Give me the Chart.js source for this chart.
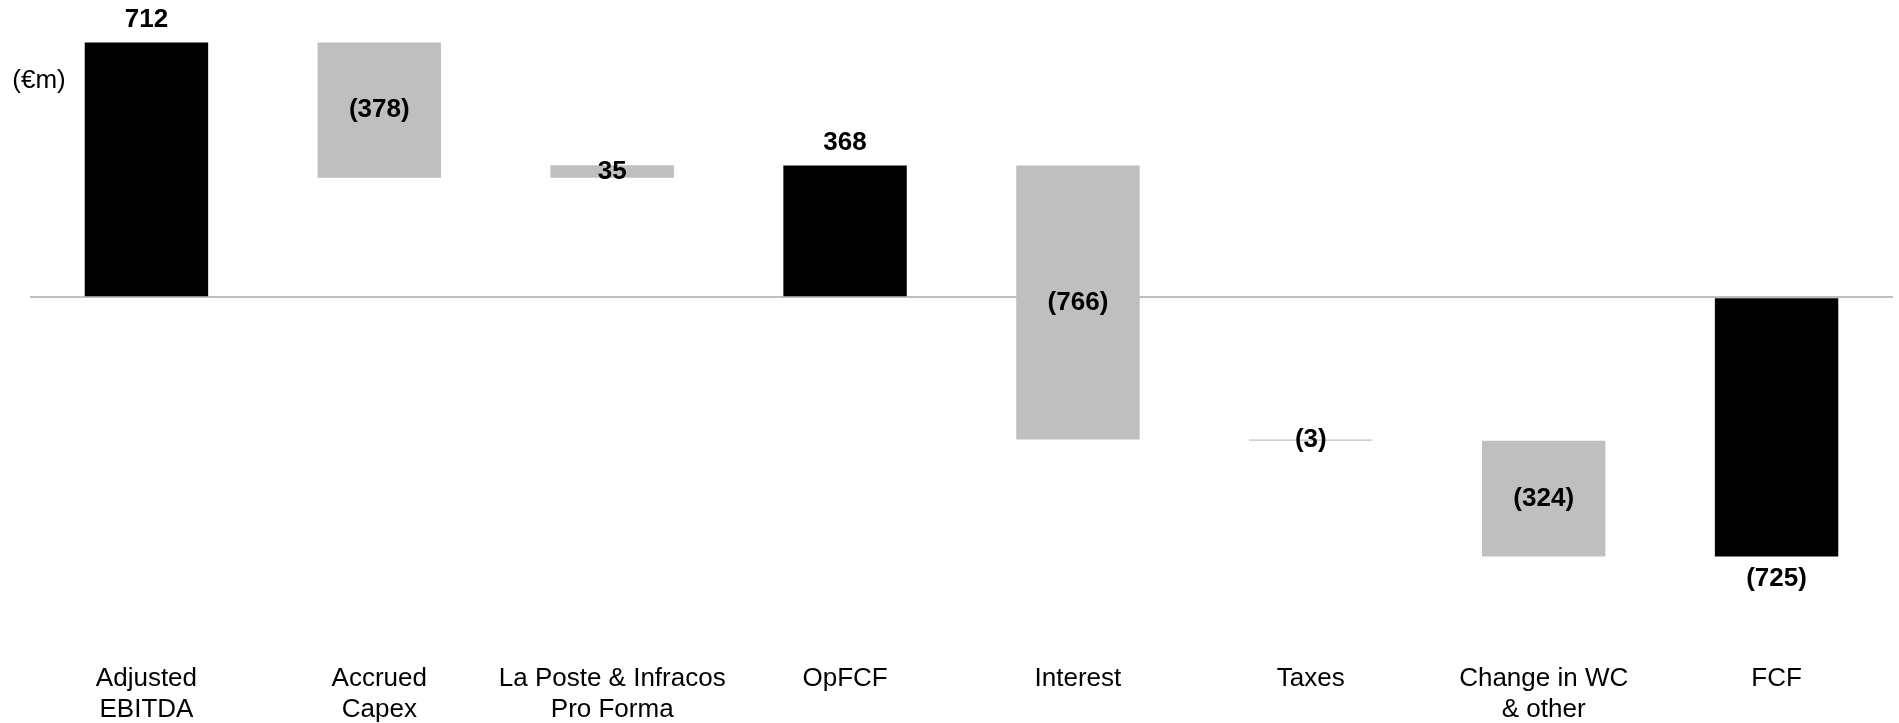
<!DOCTYPE html>
<html>
<head>
<meta charset="utf-8">
<title>FCF bridge</title>
<script src="https://cdn.jsdelivr.net/npm/chart.js@4"></script>
<style>
  html, body { margin: 0; padding: 0; background: #ffffff; }
  #wrap { position: relative; width: 1899px; height: 723px; }
</style>
</head>
<body>
<div id="wrap"><canvas id="bridgeChart"></canvas></div>
<script>
// categories (multi-line labels as arrays)
var categories = [
    ["Adjusted", "EBITDA"],
    ["Accrued", "Capex"],
    ["La Poste & Infracos", "Pro Forma"],
    "OpFCF",
    "Interest",
    "Taxes",
    ["Change in WC", "& other"],
    "FCF"
];

// values in EUR m
var values = [712, -378, 35, 368, -766, -3, -324, -725];

// which bars are totals (start from zero)
var isTotal = [true, false, false, true, false, false, false, true];

var unitLabel = "(€m)";

var FONT = "'Liberation Sans', Arial, sans-serif";

// build the floating bars from the values
var ranges = [];
var colors = [];
var running = 0;
for (var i = 0; i < values.length; i++) {
    if (isTotal[i]) {
        ranges.push([0, values[i]]);
        running = values[i];
        colors.push("#000000");
    } else {
        ranges.push([running, running + values[i]]);
        running = running + values[i];
        colors.push("#bfbfbf");
    }
}

function fmt(v) {
    return v < 0 ? "(" + Math.abs(v) + ")" : String(v);
}

// value labels + unit label
var labelPlugin = {
    id: "bridgeLabels",
    afterDatasetsDraw: function (chart) {
        var ctx = chart.ctx;
        var meta = chart.getDatasetMeta(0);
        ctx.save();
        ctx.fillStyle = "#000000";
        ctx.font = "bold 26px " + FONT;
        ctx.textAlign = "center";
        ctx.textBaseline = "middle";
        meta.data.forEach(function (bar, i) {
            var v = values[i];
            var top = Math.min(bar.y, bar.base);
            var bottom = Math.max(bar.y, bar.base);
            var y;
            if (isTotal[i]) {
                y = v >= 0 ? top - 23 : bottom + 22;
            } else {
                y = (top + bottom) / 2;
            }
            ctx.fillText(fmt(v), bar.x, y);
        });
        ctx.font = "26px " + FONT;
        ctx.fillText(unitLabel, 39, 81);
        ctx.restore();
    }
};

new Chart("bridgeChart", {
    type: "bar",
    data: {
        labels: categories,
        datasets: [{
            data: ranges,
            backgroundColor: colors,
            borderWidth: 0,
            categoryPercentage: 1.0,
            barPercentage: 0.53
        }]
    },
    options: {
        responsive: true,
        maintainAspectRatio: false,
        animation: false,
        layout: {
            padding: { top: 11, bottom: 0, left: 30, right: 6 }
        },
        plugins: {
            legend: { display: false },
            tooltip: { enabled: false }
        },
        scales: {
            x: {
                grid: { display: false },
                border: { display: false },
                ticks: {
                    color: "#000000",
                    font: { family: FONT, size: 26, lineHeight: 1.2 },
                    padding: 0,
                    autoSkip: false,
                    maxRotation: 0
                },
                afterFit: function (scale) {
                    scale.height = 68;
                }
            },
            y: {
                min: -1000,
                max: 800,
                border: { display: false },
                ticks: { display: false, stepSize: 200 },
                grid: {
                    drawTicks: false,
                    lineWidth: 2,
                    color: function (c) {
                        return c.tick && c.tick.value === 0 ? "#bfbfbf" : "rgba(0,0,0,0)";
                    }
                }
            }
        }
    },
    plugins: [labelPlugin]
});
</script>
</body>
</html>
